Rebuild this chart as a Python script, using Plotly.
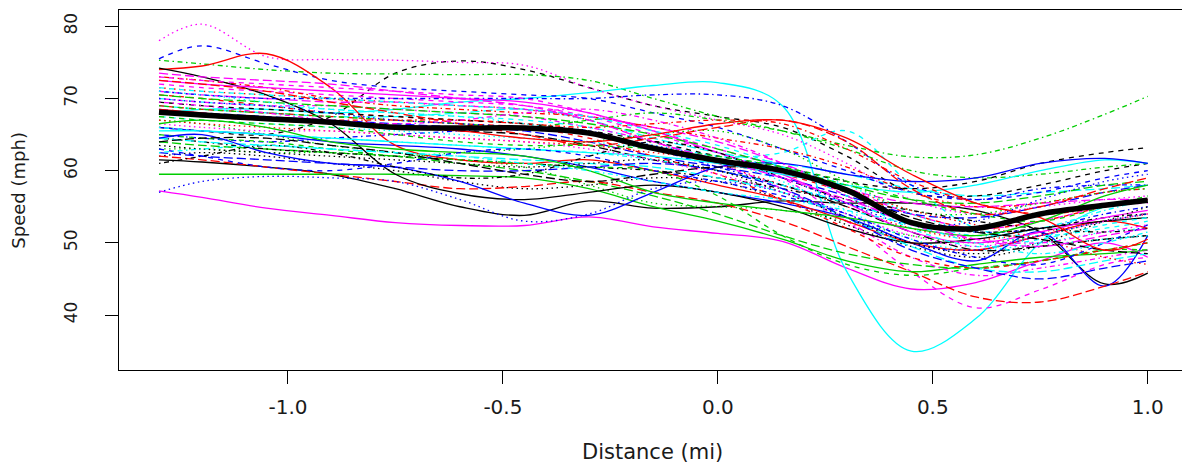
import plotly.graph_objects as go

distance_knots = [-1.3, -1.2, -1.05, -0.9, -0.75, -0.6, -0.45, -0.3, -0.15, 0.0,
                  0.15, 0.3, 0.45, 0.6, 0.75, 0.9, 1.0]

# Individual speed profiles (mph)
s00 = [61.5, 61.2, 60.5, 59.5, 57.5, 55.0, 53.8, 55.8, 54.8, 55.0, 55.8, 55.5, 55.5, 54.5, 51.5, 44.3, 45.8]
s01 = [70.5, 70.0, 69.0, 68.0, 67.5, 67.0, 66.5, 65.0, 63.0, 61.0, 59.5, 57.0, 54.0, 52.0, 53.0, 55.0, 56.0]
s02 = [67.0, 66.5, 65.0, 63.5, 62.5, 61.5, 60.5, 58.0, 55.5, 55.0, 54.5, 53.0, 51.0, 50.0, 51.0, 53.0, 54.0]
s03 = [65.0, 64.5, 64.0, 64.5, 65.0, 65.5, 66.0, 65.5, 63.0, 60.5, 58.0, 55.5, 53.0, 51.5, 52.0, 54.0, 55.0]
s04 = [69.0, 68.5, 68.0, 67.5, 67.5, 68.0, 68.5, 67.0, 64.5, 62.5, 61.0, 59.5, 57.5, 56.5, 57.0, 57.5, 58.0]
s05 = [57.2, 56.3, 54.8, 53.8, 52.8, 52.4, 52.4, 53.6, 52.2, 51.3, 50.2, 46.5, 43.6, 44.5, 47.5, 50.0, 48.0]
s06 = [66.0, 65.5, 65.0, 67.5, 73.5, 75.2, 74.0, 71.5, 69.0, 67.5, 66.0, 62.0, 57.0, 56.5, 58.0, 60.0, 61.0]
s07 = [71.5, 71.0, 70.5, 70.0, 69.5, 69.0, 68.5, 67.0, 64.0, 61.0, 58.0, 55.0, 52.0, 50.5, 51.5, 53.0, 54.0]
s08 = [75.3, 74.8, 74.0, 73.5, 73.4, 73.3, 73.3, 72.5, 70.0, 67.5, 65.5, 63.0, 60.0, 59.0, 59.5, 60.5, 61.0]
s09 = [68.5, 68.0, 67.5, 67.0, 66.5, 66.0, 65.5, 64.0, 62.0, 60.5, 59.0, 56.5, 54.0, 53.5, 55.0, 57.0, 58.0]
s10 = [68.0, 68.5, 68.5, 68.0, 68.5, 69.5, 70.0, 70.8, 71.8, 72.2, 69.0, 46.0, 35.0, 39.5, 50.0, 55.0, 56.0]
s11 = [72.0, 71.5, 71.0, 70.5, 70.0, 69.5, 69.0, 67.5, 65.0, 62.5, 59.0, 53.0, 46.0, 41.0, 43.5, 47.0, 48.0]
s12 = [62.0, 62.5, 62.0, 61.0, 60.0, 58.5, 57.5, 58.0, 59.0, 58.5, 56.0, 52.5, 49.5, 48.0, 49.5, 50.5, 51.0]
s13 = [73.0, 72.5, 71.5, 70.0, 69.0, 68.5, 68.0, 67.5, 66.0, 64.5, 63.0, 60.5, 57.0, 55.0, 55.5, 57.0, 57.5]
s14 = [64.0, 63.5, 63.0, 62.5, 62.0, 61.0, 60.0, 58.5, 56.5, 54.0, 51.0, 48.5, 47.0, 46.5, 47.5, 49.0, 50.0]
s15 = [66.0, 65.5, 65.0, 64.0, 63.5, 63.0, 62.0, 60.5, 58.5, 57.0, 55.5, 53.5, 50.0, 47.5, 51.5, 44.0, 51.0]
s16 = [70.0, 69.5, 69.0, 68.5, 68.0, 67.5, 67.0, 66.0, 64.0, 62.0, 62.5, 65.5, 58.0, 52.0, 51.0, 52.0, 53.0]
s17 = [78.0, 80.3, 75.8, 75.4, 75.3, 75.0, 74.6, 71.5, 69.0, 67.0, 65.0, 61.0, 56.0, 54.0, 55.0, 56.0, 56.5]
s18 = [64.5, 64.0, 63.0, 62.5, 62.0, 61.5, 61.0, 60.5, 60.0, 59.0, 57.5, 55.5, 53.0, 51.5, 52.0, 53.5, 54.0]
s19 = [62.0, 61.5, 60.5, 59.5, 58.5, 57.5, 57.8, 58.5, 57.0, 55.5, 53.0, 49.5, 46.0, 42.5, 41.8, 44.0, 46.0]
s20 = [59.5, 59.5, 59.5, 59.5, 59.5, 59.3, 59.0, 57.5, 55.0, 53.0, 50.5, 47.5, 46.0, 47.0, 48.0, 48.5, 49.0]
s21 = [75.5, 77.3, 74.8, 72.5, 71.5, 71.0, 70.5, 70.0, 68.0, 66.0, 63.0, 60.0, 57.0, 56.0, 57.0, 59.0, 60.0]
s22 = [67.5, 67.0, 66.5, 66.0, 65.5, 65.0, 64.5, 64.0, 63.0, 61.5, 58.5, 54.5, 50.5, 49.0, 50.0, 51.5, 52.0]
s23 = [70.0, 69.5, 69.0, 69.0, 68.5, 68.0, 67.5, 66.0, 64.0, 61.0, 57.5, 53.0, 48.0, 45.5, 46.5, 48.0, 49.0]
s24 = [68.0, 67.5, 67.0, 66.5, 66.0, 65.5, 65.0, 63.5, 61.5, 60.0, 58.0, 55.0, 51.5, 49.0, 49.5, 50.5, 51.0]
s25 = [74.0, 74.5, 76.2, 71.5, 63.5, 61.5, 61.0, 61.5, 60.0, 58.0, 56.0, 53.0, 50.0, 49.0, 51.0, 53.0, 52.0]
s26 = [65.0, 64.5, 64.0, 63.0, 62.0, 61.5, 61.0, 60.5, 60.0, 56.5, 51.0, 47.0, 45.5, 46.5, 47.5, 49.0, 49.0]
s27 = [57.0, 58.5, 59.2, 59.0, 58.5, 56.0, 53.0, 54.0, 57.5, 58.5, 57.0, 54.0, 50.0, 49.0, 51.0, 53.0, 54.0]
s28 = [66.0, 65.5, 65.0, 64.5, 64.0, 63.5, 63.0, 62.5, 61.5, 60.0, 58.0, 55.5, 53.0, 51.0, 52.0, 54.5, 56.0]
s29 = [71.0, 70.5, 70.0, 69.5, 69.5, 69.0, 68.5, 67.5, 66.0, 64.0, 61.0, 57.5, 55.5, 55.0, 55.5, 56.0, 56.0]
s30 = [74.2, 73.0, 70.5, 66.5, 59.5, 56.8, 56.0, 57.0, 58.0, 57.0, 55.0, 52.0, 50.0, 50.5, 52.0, 53.0, 53.5]
s31 = [69.0, 68.5, 68.0, 67.5, 67.0, 66.5, 66.0, 64.5, 62.0, 59.5, 56.0, 52.0, 48.0, 46.5, 47.5, 49.0, 50.0]
s32 = [63.0, 63.0, 62.5, 62.5, 62.0, 62.5, 63.0, 64.0, 65.0, 65.5, 63.0, 58.5, 54.5, 54.0, 55.5, 57.0, 57.5]
s33 = [71.0, 70.5, 70.0, 70.0, 70.0, 70.0, 70.0, 70.0, 70.5, 70.5, 69.0, 64.0, 58.0, 56.0, 57.5, 58.0, 58.0]
s34 = [64.5, 64.0, 63.5, 63.0, 62.5, 62.0, 61.5, 61.0, 60.5, 59.0, 57.0, 53.5, 49.5, 46.5, 46.0, 47.5, 48.5]
s35 = [72.5, 72.0, 71.5, 71.0, 70.5, 70.0, 69.5, 68.0, 65.5, 62.5, 59.5, 55.5, 51.5, 50.0, 51.5, 53.5, 54.5]
s36 = [69.5, 69.0, 68.5, 68.0, 67.5, 67.0, 66.5, 65.5, 64.0, 62.0, 60.5, 58.5, 57.5, 58.5, 61.0, 62.5, 63.2]
s37 = [67.0, 66.5, 66.0, 65.5, 65.0, 64.5, 64.0, 63.5, 62.5, 61.5, 60.0, 57.5, 54.5, 52.5, 50.5, 48.0, 47.0]
s38 = [69.0, 68.5, 68.0, 67.5, 67.0, 66.5, 66.0, 67.0, 68.0, 67.0, 65.5, 63.5, 61.9, 62.2, 64.5, 67.8, 70.3]
s39 = [62.5, 62.0, 61.5, 61.0, 60.5, 60.0, 60.0, 60.5, 61.0, 60.0, 57.5, 53.5, 49.0, 46.5, 45.0, 46.5, 47.5]
s40 = [65.5, 65.5, 65.0, 64.5, 64.0, 63.5, 63.0, 62.5, 62.0, 61.0, 59.5, 58.0, 57.0, 58.0, 60.0, 61.5, 61.0]
s41 = [73.0, 72.5, 72.0, 71.5, 71.0, 70.5, 70.0, 68.0, 65.5, 63.0, 60.5, 57.5, 54.0, 52.0, 53.0, 55.0, 55.5]
s42 = [63.5, 63.0, 62.5, 62.0, 61.5, 61.0, 60.5, 61.0, 61.5, 60.0, 57.0, 53.5, 50.0, 48.5, 50.0, 53.0, 55.0]
s43 = [68.0, 67.5, 67.0, 67.0, 67.0, 67.0, 66.5, 66.0, 66.5, 67.0, 66.5, 63.0, 58.5, 55.5, 54.0, 55.0, 56.0]
s44 = [70.5, 70.0, 69.5, 69.0, 68.5, 68.0, 67.5, 66.5, 65.0, 63.0, 60.5, 58.0, 56.0, 55.5, 56.5, 58.0, 58.5]
s45 = [64.5, 65.0, 62.5, 61.0, 60.5, 58.5, 55.5, 53.8, 57.0, 60.5, 61.0, 59.5, 58.5, 59.0, 61.0, 61.7, 61.0]
s46 = [71.5, 71.0, 70.5, 70.0, 69.5, 69.0, 68.5, 67.5, 65.5, 63.5, 60.5, 56.5, 52.0, 49.5, 50.5, 52.5, 53.5]
s47 = [66.5, 66.0, 65.5, 65.5, 65.0, 64.5, 64.0, 63.0, 61.5, 59.5, 57.0, 54.0, 51.0, 49.5, 51.0, 53.0, 54.0]
s48 = [61.0, 62.0, 63.5, 62.5, 60.5, 59.0, 59.5, 62.0, 64.0, 62.5, 59.0, 56.0, 54.5, 53.0, 52.0, 51.5, 52.0]
s49 = [72.5, 72.0, 71.0, 69.5, 68.0, 66.5, 65.0, 63.5, 64.5, 66.0, 67.0, 64.0, 57.5, 54.0, 55.0, 57.5, 59.0]
s50 = [66.5, 67.0, 66.0, 64.0, 63.0, 62.5, 62.0, 60.0, 57.0, 55.5, 54.5, 53.5, 52.0, 51.0, 53.0, 56.5, 58.0]
s51 = [63.0, 62.0, 60.5, 60.0, 61.0, 62.5, 63.0, 62.0, 60.0, 58.5, 56.5, 54.0, 50.5, 48.0, 47.0, 50.0, 52.5]
s52 = [71.0, 70.5, 69.5, 68.5, 68.0, 67.5, 66.5, 65.0, 63.5, 62.0, 60.5, 58.0, 54.0, 51.5, 50.0, 50.5, 51.0]
s53 = [69.5, 69.0, 68.0, 67.0, 66.5, 67.0, 68.0, 68.5, 67.0, 64.5, 61.0, 56.5, 52.5, 50.5, 50.0, 51.5, 52.5]
s54 = [64.0, 64.5, 64.5, 63.5, 62.5, 61.0, 59.5, 58.5, 59.5, 60.5, 60.0, 57.0, 53.5, 51.5, 50.5, 49.0, 48.5]
s55 = [68.5, 68.0, 67.0, 66.5, 66.0, 65.5, 64.5, 64.0, 65.0, 66.5, 67.0, 64.5, 59.5, 55.5, 53.5, 49.0, 50.5]
s56 = [67.5, 67.0, 66.5, 66.0, 65.0, 64.0, 63.5, 63.5, 63.0, 62.0, 60.5, 58.5, 56.0, 54.0, 53.0, 55.0, 56.5]
s57 = [70.0, 69.5, 69.0, 68.0, 67.0, 66.5, 66.0, 65.0, 63.5, 61.5, 59.0, 55.5, 52.5, 53.0, 56.0, 58.5, 59.5]
s58 = [62.5, 63.0, 63.5, 63.0, 62.5, 62.0, 61.0, 60.0, 58.5, 57.0, 56.0, 54.5, 52.5, 50.0, 48.5, 50.0, 51.5]
s59 = [73.5, 73.0, 72.5, 72.0, 71.0, 70.0, 69.0, 67.0, 64.0, 61.5, 59.0, 56.0, 53.0, 50.5, 49.5, 51.0, 52.0]

# Mean profile (thick black line)
mean_speed = [68.1, 67.7, 67.2, 66.7, 66.0, 65.9, 65.9, 65.2, 63.1, 61.4, 60.0, 57.3, 52.8, 52.0, 54.0, 55.2, 55.9]

x_tick_vals = [-1.0, -0.5, 0.0, 0.5, 1.0]
x_tick_text = ["-1.0", "-0.5", "0.0", "0.5", "1.0"]
y_tick_vals = [40, 50, 60, 70, 80]
y_tick_text = ["40", "50", "60", "70", "80"]

curves = [s00, s01, s02, s03, s04, s05, s06, s07, s08, s09, s10, s11, s12, s13, s14, s15,
          s16, s17, s18, s19, s20, s21, s22, s23, s24, s25, s26, s27, s28, s29, s30, s31,
          s32, s33, s34, s35, s36, s37, s38, s39, s40, s41, s42, s43, s44, s45, s46, s47,
          s48, s49, s50, s51, s52, s53, s54, s55, s56, s57, s58, s59]

# R matplot default styles: col = 1:6, lty = 1:5, cycling independently
palette = ["#000000", "#FF0000", "#00CD00", "#0000FF", "#00FFFF", "#FF00FF"]
dashes = ["solid", "5px,5px", "1.5px,3.5px", "1.5px,3.5px,5px,3.5px", "9px,4px"]

fig = go.Figure()
for i, ys in enumerate(curves):
    fig.add_trace(go.Scatter(
        x=distance_knots, y=ys, mode="lines",
        line=dict(color=palette[i % 6], dash=dashes[i % 5], width=1.3,
                  shape="spline", smoothing=1.0),
        showlegend=False, hoverinfo="skip"))

fig.add_trace(go.Scatter(
    x=distance_knots, y=mean_speed, mode="lines",
    line=dict(color="#000000", width=5.5, shape="spline", smoothing=1.0),
    showlegend=False, hoverinfo="skip"))

axis_common = dict(showgrid=False, zeroline=False, showline=True, linecolor="#000000",
                   linewidth=1, mirror=True, ticks="outside", ticklen=13,
                   tickcolor="#000000", tickwidth=1, automargin=False)

# The page body adds an 8px offset, so the figure is sized/margined to compensate
fig.update_layout(
    width=1182, height=459,
    margin=dict(l=111, r=4, t=2, b=97),
    paper_bgcolor="white", plot_bgcolor="white",
    font=dict(family="DejaVu Sans", color="#000000"),
    xaxis=dict(range=[-1.393, 1.089], tickvals=x_tick_vals, ticktext=x_tick_text,
               tickfont=dict(size=20, family="DejaVu Sans", color="#1a1a1a"),
               ticklabelstandoff=6, **axis_common),
    yaxis=dict(range=[32.38, 82.26], tickvals=y_tick_vals, ticktext=y_tick_text,
               tickangle=-90,
               tickfont=dict(size=17, family="DejaVu Sans", color="#1a1a1a"),
               ticklabelstandoff=21, **axis_common),
    annotations=[
        dict(text="Distance (mi)", xref="paper", yref="paper", x=0.5, y=-0.229,
             xanchor="center", yanchor="middle", showarrow=False,
             font=dict(size=21, family="DejaVu Sans", color="#1a1a1a")),
        dict(text="Speed (mph)", xref="paper", yref="paper", x=-0.095, y=0.5,
             xanchor="center", yanchor="middle", textangle=-90, showarrow=False,
             font=dict(size=18, family="DejaVu Sans", color="#1a1a1a")),
    ],
)

fig.write_html("out.html")
